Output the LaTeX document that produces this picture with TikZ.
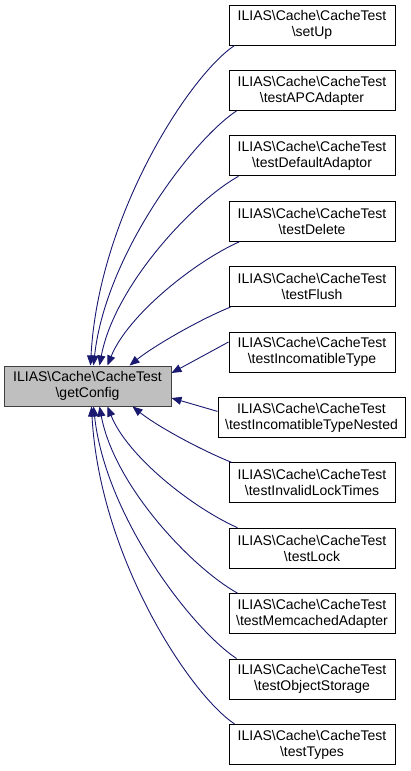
\documentclass[tikz,border=0pt]{standalone}
\usepackage{fontspec}
\setmainfont{Liberation Sans}
\usetikzlibrary{arrows.meta}
\definecolor{edgeblue}{HTML}{191970}
\definecolor{boxgray}{HTML}{BFBFBF}
\tikzset{
  fnbox/.style={draw=black, line width=1pt, fill=white, rectangle, minimum width=166pt, minimum height=40pt, inner sep=0pt, align=center, font=\fontsize{14}{16}\selectfont},
  widebox/.style={fnbox, minimum width=187pt},
  rootbox/.style={fnbox, fill=boxgray, draw=black!75, minimum width=167pt},
  edgeline/.style={draw=edgeblue, line width=0.9pt, -{Triangle[length=10pt,width=8pt]}}
}
\begin{document}
\begin{tikzpicture}[x=1pt,y=-1pt]
\useasboundingbox (0,0) rectangle (411,771);
\node[rootbox] (g) at (87.5,386) {ILIAS\textbackslash Cache\textbackslash CacheTest\\\textbackslash getConfig};
\node[fnbox] (s0) at (312,25) {ILIAS\textbackslash Cache\textbackslash CacheTest\\\textbackslash setUp};
\node[fnbox] (s1) at (312,90.4) {ILIAS\textbackslash Cache\textbackslash CacheTest\\\textbackslash testAPCAdapter};
\node[fnbox] (s2) at (312,155.8) {ILIAS\textbackslash Cache\textbackslash CacheTest\\\textbackslash testDefaultAdaptor};
\node[fnbox] (s3) at (312,221.2) {ILIAS\textbackslash Cache\textbackslash CacheTest\\\textbackslash testDelete};
\node[fnbox] (s4) at (312,286.6) {ILIAS\textbackslash Cache\textbackslash CacheTest\\\textbackslash testFlush};
\node[fnbox] (s5) at (312,352) {ILIAS\textbackslash Cache\textbackslash CacheTest\\\textbackslash testIncomatibleType};
\node[widebox] (s6) at (311.5,417.4) {ILIAS\textbackslash Cache\textbackslash CacheTest\\\textbackslash testIncomatibleTypeNested};
\node[fnbox] (s7) at (312,482.8) {ILIAS\textbackslash Cache\textbackslash CacheTest\\\textbackslash testInvalidLockTimes};
\node[fnbox] (s8) at (312,548.2) {ILIAS\textbackslash Cache\textbackslash CacheTest\\\textbackslash testLock};
\node[fnbox] (s9) at (312,613.6) {ILIAS\textbackslash Cache\textbackslash CacheTest\\\textbackslash testMemcachedAdapter};
\node[fnbox] (s10) at (312,679) {ILIAS\textbackslash Cache\textbackslash CacheTest\\\textbackslash testObjectStorage};
\node[fnbox] (s11) at (312,744.4) {ILIAS\textbackslash Cache\textbackslash CacheTest\\\textbackslash testTypes};
% upper edges
\draw[edgeline] ([xshift=6pt]s0.south west) .. controls +(-45,30) and +(8,-150) .. ([xshift=87pt]g.north west);
\draw[edgeline] ([xshift=8pt]s1.south west) .. controls +(-45,30) and +(12,-110) .. ([xshift=90pt]g.north west);
\draw[edgeline] ([xshift=10pt]s2.south west) .. controls +(-45,25) and +(15,-80) .. ([xshift=96pt]g.north west);
\draw[edgeline] ([xshift=11pt]s3.south west) .. controls +(-45,20) and +(20,-50) .. ([xshift=104pt]g.north west);
\draw[edgeline] ([xshift=2pt]s4.south west) .. controls +(-30,12) and +(25,-20) .. ([xshift=126pt]g.north west);
\draw[edgeline] ([yshift=10pt]s5.west) -- ([yshift=13pt]g.east);
% lower edges
\draw[edgeline] ([yshift=6pt]s6.west) -- ([yshift=-12pt]g.east);
\draw[edgeline] ([xshift=3pt]s7.north west) .. controls +(-30,-12) and +(25,20) .. ([xshift=129pt]g.south west);
\draw[edgeline] ([xshift=9pt]s8.north west) .. controls +(-45,-20) and +(20,50) .. ([xshift=104pt]g.south west);
\draw[edgeline] ([xshift=9pt]s9.north west) .. controls +(-45,-25) and +(15,80) .. ([xshift=96pt]g.south west);
\draw[edgeline] ([xshift=8pt]s10.north west) .. controls +(-45,-30) and +(12,110) .. ([xshift=90pt]g.south west);
\draw[edgeline] ([xshift=6pt]s11.north west) .. controls +(-45,-30) and +(8,150) .. ([xshift=88pt]g.south west);
\end{tikzpicture}
\end{document}
